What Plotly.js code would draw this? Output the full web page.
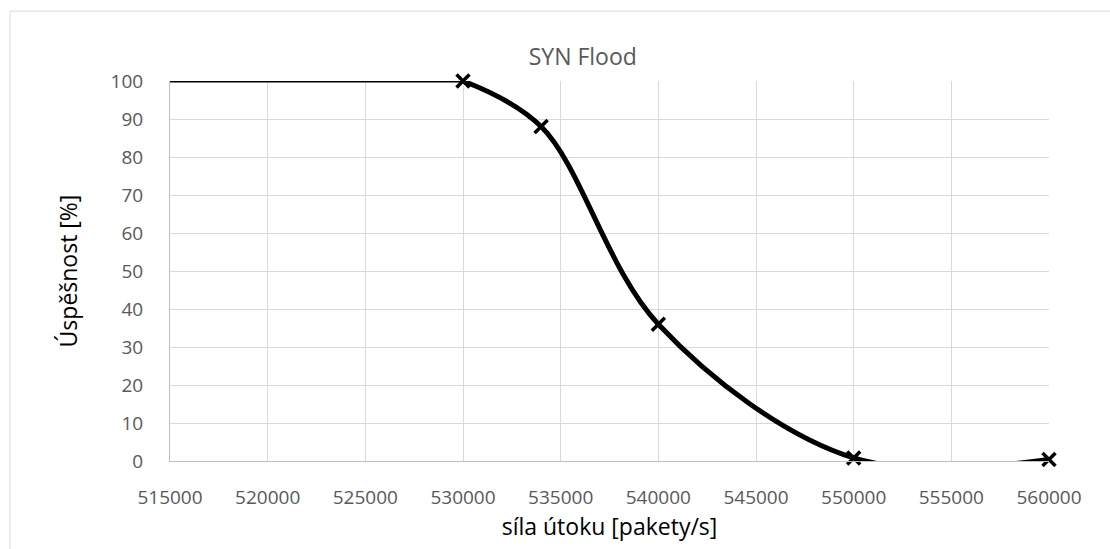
<!DOCTYPE html>
<html>
<head>
<meta charset="utf-8">
<script src="https://cdn.plot.ly/plotly-3.0.1.min.js"></script>
<style>html,body{margin:0;padding:0;background:#fff;}#chart{width:1110px;height:549px;}</style>
</head>
<body>
<div id="chart"></div>
<script>
const attackRate = [515000, 530000, 534000, 540000, 550000, 560000];
const successPct = [100, 100, 88, 36, 0.8, 0.4];
const xTicks = [515000, 520000, 525000, 530000, 535000, 540000, 545000, 550000, 555000, 560000];
const yTicks = [0, 10, 20, 30, 40, 50, 60, 70, 80, 90, 100];
const chartTitle = 'SYN Flood';
const xTitle = 'síla útoku [pakety/s]';
const yTitle = 'Úspěšnost [%]';

const font = '"Open Sans", "Noto Sans", sans-serif';
const traces = [
  {
    x: attackRate.slice(0, 2), y: successPct.slice(0, 2), type: 'scatter', mode: 'lines',
    line: {color: '#000', width: 3}, hoverinfo: 'skip', showlegend: false
  },
  {
    x: attackRate.slice(1), y: successPct.slice(1), type: 'scatter', mode: 'lines',
    line: {color: '#000', width: 5, shape: 'spline', smoothing: 1},
    hoverinfo: 'skip', showlegend: false
  },
  {
    x: attackRate.slice(1), y: successPct.slice(1), type: 'scatter', mode: 'markers',
    marker: {symbol: 'x-thin', size: 13, color: '#000', line: {color: '#000', width: 3.5}},
    cliponaxis: false, showlegend: false
  }
];
const layout = {
  width: 1110, height: 549,
  margin: {l: 170, r: 61, t: 81, b: 88},
  paper_bgcolor: '#fff', plot_bgcolor: '#fff',
  font: {family: font, color: '#595959', size: 19},
  title: {text: chartTitle, x: 0.525, xanchor: 'center', y: 0.896, yanchor: 'middle',
          font: {family: font, size: 23, color: '#595959'}},
  xaxis: {
    range: [515000, 560000], tickvals: xTicks, ticktext: xTicks.map(String),
    showgrid: true, gridcolor: '#d9d9d9', gridwidth: 1,
    showline: true, linecolor: '#bfbfbf', linewidth: 1, zeroline: false,
    ticks: '', ticklen: 0, ticklabelstandoff: 19, tickfont: {size: 19, color: '#595959'},
    title: {text: xTitle, font: {size: 23, color: '#000'}, standoff: 4}
  },
  yaxis: {
    range: [0, 100], tickvals: yTicks, ticktext: yTicks.map(String),
    showgrid: true, gridcolor: '#d9d9d9', gridwidth: 1,
    showline: true, linecolor: '#bfbfbf', linewidth: 1, zeroline: false,
    ticks: '', ticklen: 0, ticklabelstandoff: 22, tickfont: {size: 19, color: '#595959'},
    title: {text: yTitle, font: {size: 23, color: '#000'}, standoff: 26}
  },
  shapes: [{
    type: 'rect', xref: 'paper', yref: 'paper',
    x0: -0.182, x1: 1.2, y0: -0.4, y1: 1.184,
    line: {color: '#d9d9d9', width: 1}, fillcolor: 'rgba(0,0,0,0)', layer: 'below'
  }]
};
Plotly.newPlot('chart', traces, layout, {displayModeBar: false, staticPlot: true});
</script>
</body>
</html>
